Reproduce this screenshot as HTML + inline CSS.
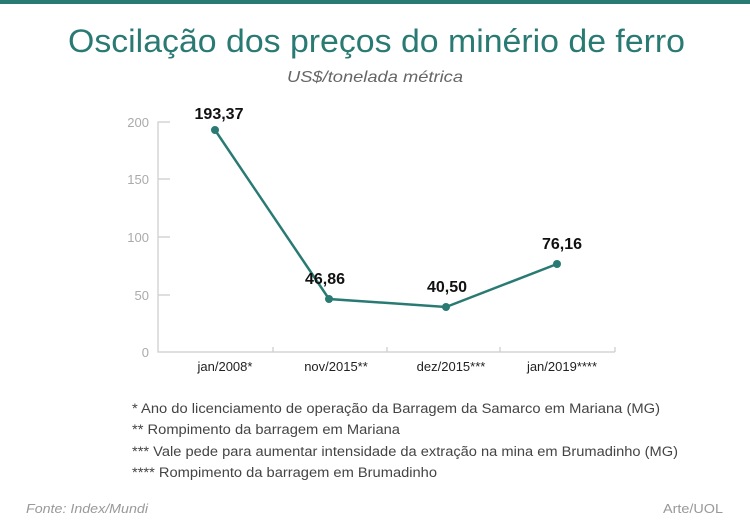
<!DOCTYPE html>
<html><head><meta charset="utf-8"><style>
html,body{margin:0;padding:0;background:#fff;}
svg{display:block;font-family:"Liberation Sans",sans-serif;}
</style></head><body>
<svg width="750" height="532" viewBox="0 0 750 532" xmlns="http://www.w3.org/2000/svg">
<rect x="0" y="0" width="750" height="4" fill="#2a7a74"/>
<text x="68" y="52" font-size="32" fill="#2a7a74" textLength="617" lengthAdjust="spacingAndGlyphs">Oscilação dos preços do minério de ferro</text>
<text x="287" y="82" font-size="16" font-style="italic" fill="#666" textLength="176" lengthAdjust="spacingAndGlyphs">US$/tonelada métrica</text>
<g stroke="#ccc" stroke-width="1.2" fill="none">
<path d="M170 122H158V352H615"/>
<path d="M158 179H170M158 237H170M158 295H170"/>
<path d="M273 352v-5M387 352v-5M500 352v-5M615 352v-5"/>
</g>
<g font-size="13" fill="#aaa" text-anchor="end">
<text x="149" y="127">200</text><text x="149" y="184">150</text><text x="149" y="242">100</text><text x="149" y="300">50</text><text x="149" y="357">0</text>
</g>
<polyline points="215,130 329,299 446,307 557,264" fill="none" stroke="#2a7a74" stroke-width="2.5"/>
<g fill="#2a7a74"><circle cx="215" cy="130" r="4"/><circle cx="329" cy="299" r="4"/><circle cx="446" cy="307" r="4"/><circle cx="557" cy="264" r="4"/></g>
<g font-size="16" font-weight="bold" fill="#111" text-anchor="middle">
<text x="219" y="119">193,37</text><text x="325" y="284">46,86</text><text x="447" y="292">40,50</text><text x="562" y="249">76,16</text>
</g>
<g font-size="13" fill="#222" text-anchor="middle">
<text x="225" y="371">jan/2008*</text><text x="336" y="371">nov/2015**</text><text x="451" y="371">dez/2015***</text><text x="562" y="371">jan/2019****</text>
</g>
<g font-size="13.5" fill="#444">
<text x="132" y="413" textLength="528" lengthAdjust="spacingAndGlyphs">* Ano do licenciamento de operação da Barragem da Samarco em Mariana (MG)</text>
<text x="132" y="434" textLength="268" lengthAdjust="spacingAndGlyphs">** Rompimento da barragem em Mariana</text>
<text x="132" y="456" textLength="546" lengthAdjust="spacingAndGlyphs">*** Vale pede para aumentar intensidade da extração na mina em Brumadinho (MG)</text>
<text x="132" y="477" textLength="305" lengthAdjust="spacingAndGlyphs">**** Rompimento da barragem em Brumadinho</text>
</g>
<text x="26" y="513" font-size="13" font-style="italic" fill="#999" textLength="122" lengthAdjust="spacingAndGlyphs">Fonte: Index/Mundi</text>
<text x="663" y="513" font-size="13" fill="#999" textLength="60" lengthAdjust="spacingAndGlyphs">Arte/UOL</text>
</svg>
</body></html>
